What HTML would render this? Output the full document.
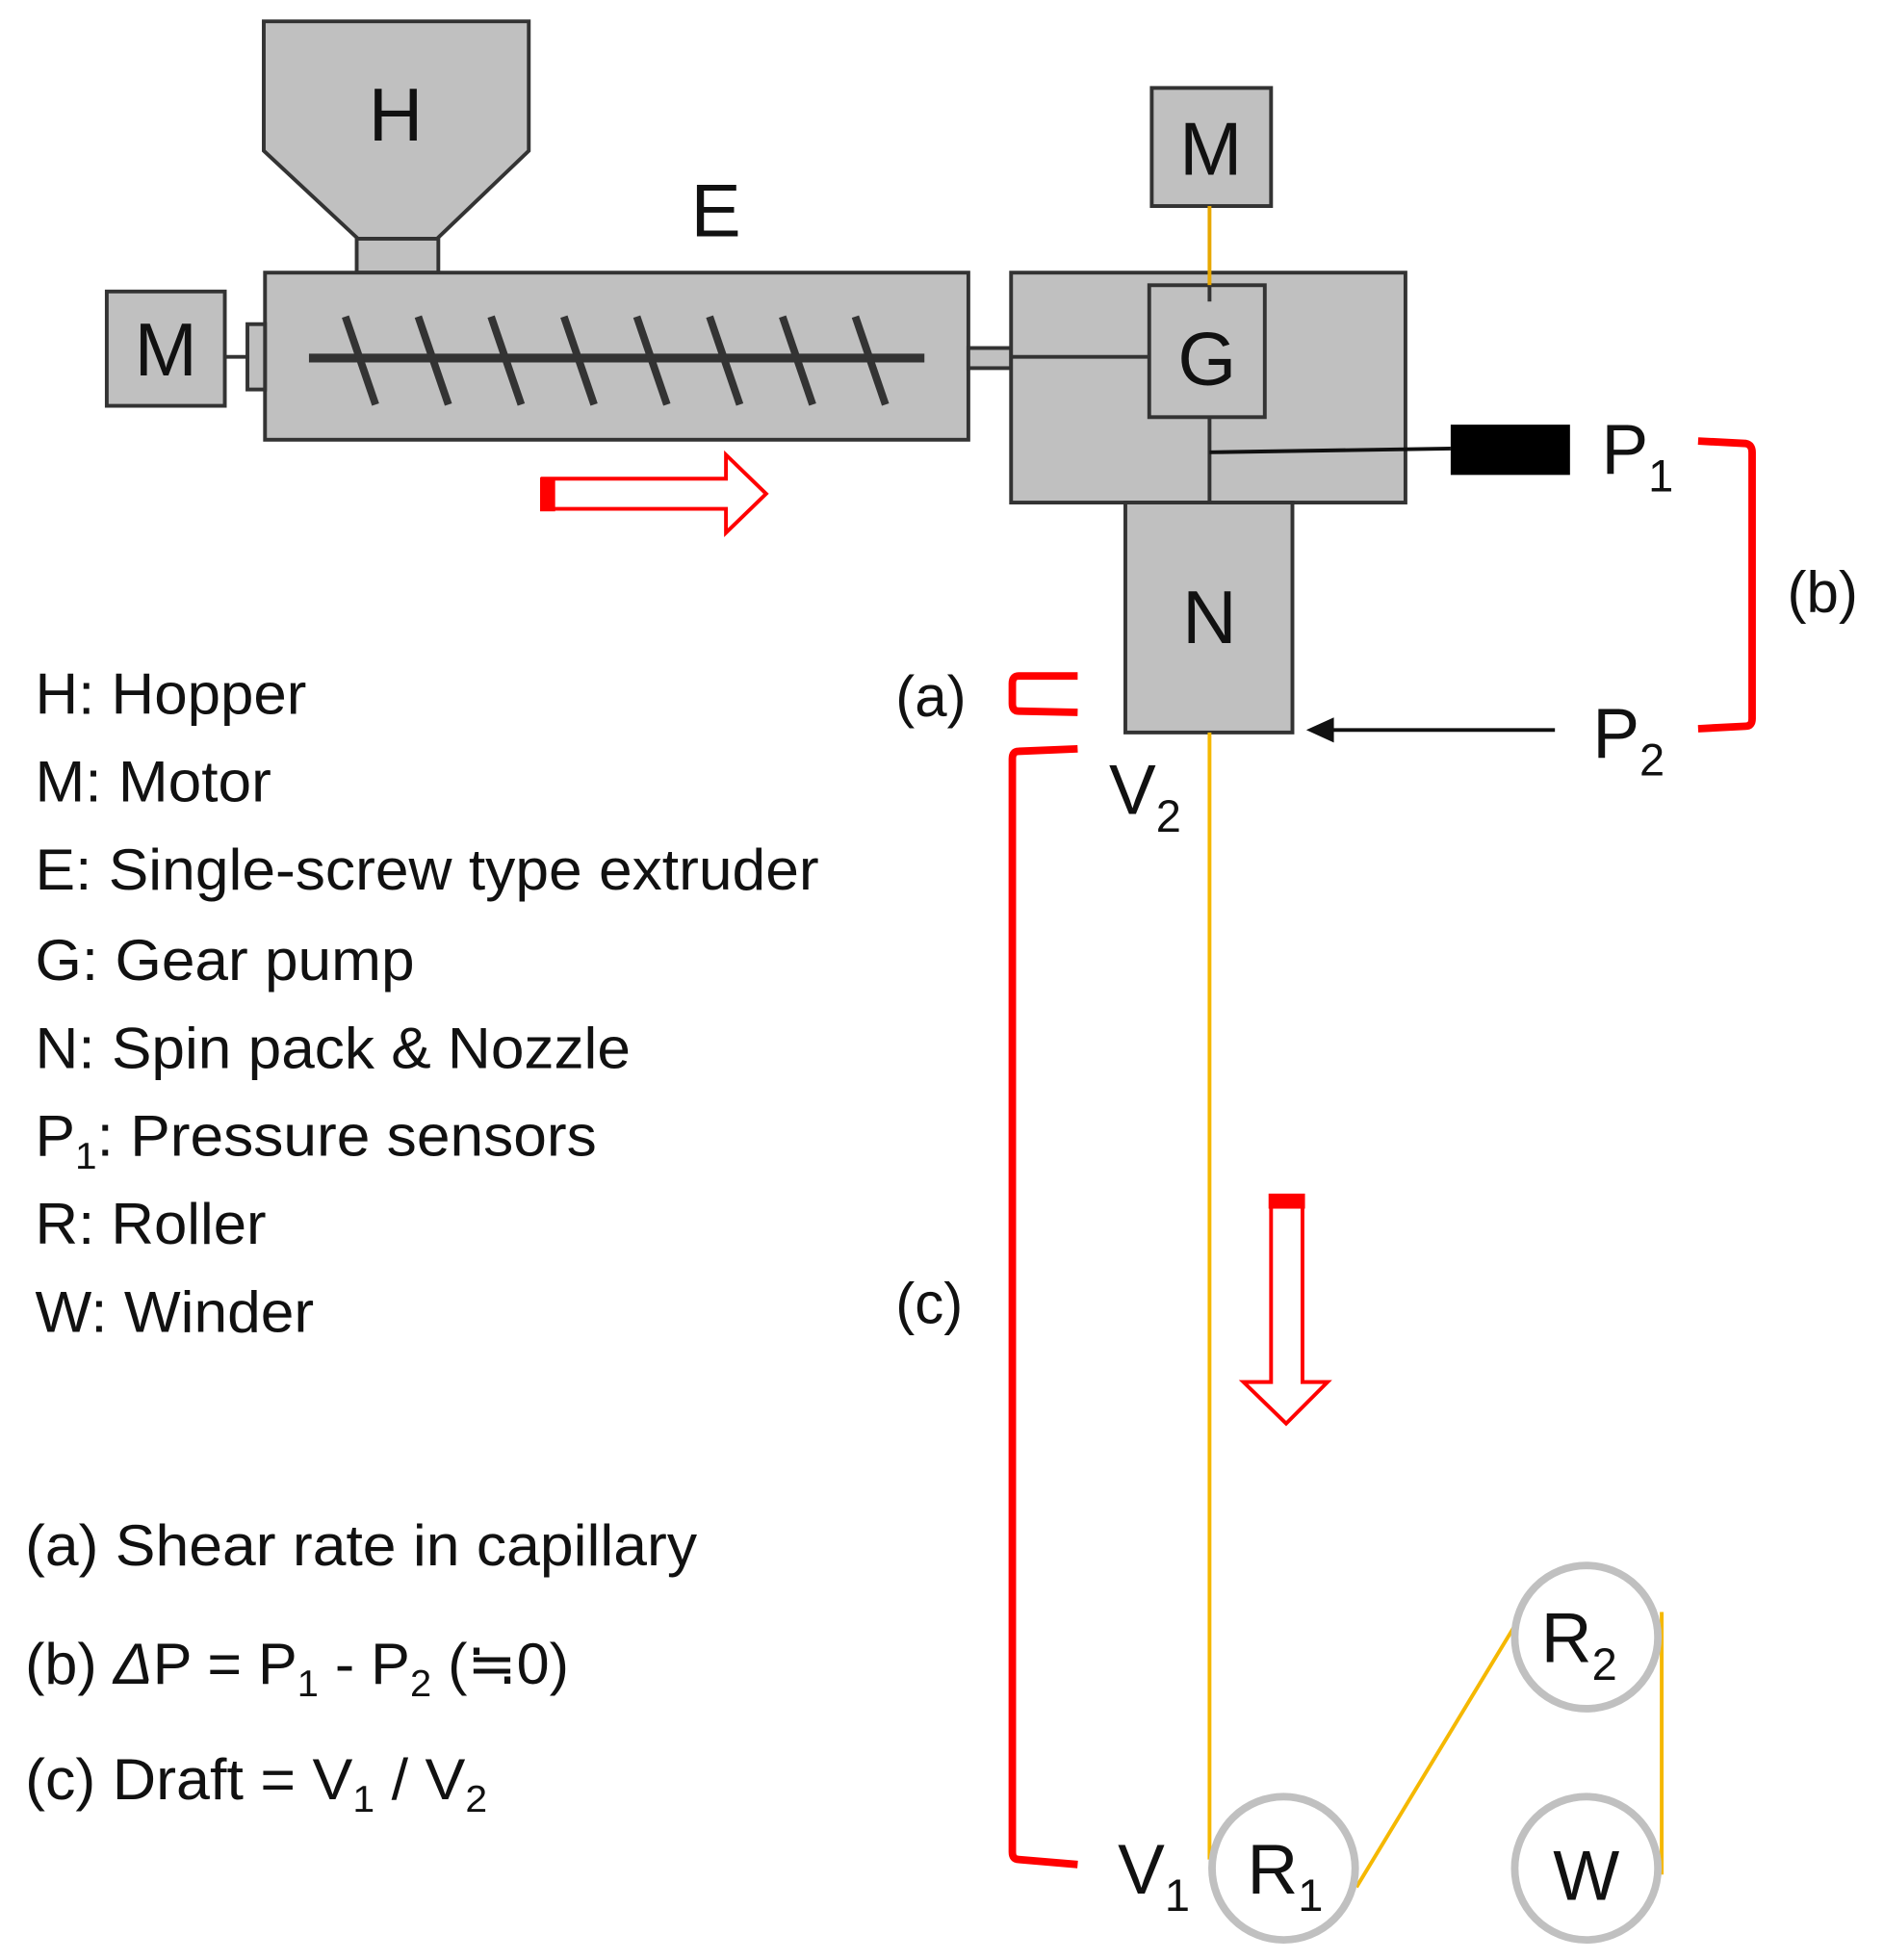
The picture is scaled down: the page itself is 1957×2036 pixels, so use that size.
<!DOCTYPE html>
<html><head><meta charset="utf-8"><style>html,body{margin:0;padding:0;background:#fff}svg{display:block}</style></head>
<body>
<svg width="1957" height="2036" viewBox="0 0 1500 1560" preserveAspectRatio="none" xmlns="http://www.w3.org/2000/svg" font-family="Liberation Sans, Arial, sans-serif">
<g fill="#c0c0c0" stroke="#333" stroke-width="3">
<polygon points="210,17 421,17 421,120 348,190 285,190 210,120"/>
<rect x="284" y="190" width="65" height="27"/>
<rect x="211" y="217" width="560" height="133"/>
<rect x="85" y="232" width="94" height="91"/>
<rect x="197" y="258" width="14" height="52"/>
<rect x="771" y="277" width="34" height="16"/>
<rect x="805" y="217" width="314" height="183"/>
<rect x="915" y="227" width="92" height="105"/>
<rect x="917" y="70" width="95" height="94"/>
<rect x="896" y="400" width="133" height="183"/>
</g>
<line x1="179" y1="284" x2="197" y2="284" stroke="#333" stroke-width="3"/>
<line x1="246" y1="285" x2="736" y2="285" stroke="#333" stroke-width="7"/>
<g stroke="#333" stroke-width="6">
<line x1="275" y1="252" x2="299" y2="322"/><line x1="333" y1="252" x2="357" y2="322"/>
<line x1="391" y1="252" x2="415" y2="322"/><line x1="449" y1="252" x2="473" y2="322"/>
<line x1="507" y1="252" x2="531" y2="322"/><line x1="565" y1="252" x2="589" y2="322"/>
<line x1="623" y1="252" x2="647" y2="322"/><line x1="681" y1="252" x2="705" y2="322"/>
</g>
<line x1="805" y1="284" x2="915" y2="284" stroke="#333" stroke-width="3"/>
<line x1="963" y1="164" x2="963" y2="227" stroke="#e8a800" stroke-width="3"/>
<line x1="963" y1="227" x2="963" y2="240" stroke="#333" stroke-width="3"/>
<line x1="963" y1="332" x2="963" y2="400" stroke="#333" stroke-width="3"/>
<line x1="963" y1="360" x2="1155" y2="357" stroke="#111" stroke-width="3"/>
<rect x="1155" y="338" width="95" height="40" fill="#000"/>
<line x1="1238" y1="581" x2="1060" y2="581" stroke="#111" stroke-width="3"/>
<polygon points="1040,581 1062,571 1062,591" fill="#111"/>
<g fill="none" stroke="#f00" stroke-width="6" stroke-linejoin="round">
<path d="M1352,351 L1390,353 Q1395,354 1395,360 L1395,572 Q1395,578 1390,578 L1352,580"/>
<path d="M858,538 L811,538 Q806,538 806,544 L806,560 Q806,566 811,566 L858,567"/>
<path d="M858,596 L811,598 Q806,598 806,604 L806,1474 Q806,1480 811,1480 L858,1484"/>
</g>
<polygon points="432,381 578,381 578,362 610,393 578,424 578,405 432,405" fill="#fff" stroke="#f00" stroke-width="3"/>
<rect x="430" y="380" width="12" height="27" fill="#f00"/>
<polygon points="1012,952 1037,952 1037,1100 1057,1100 1024,1133 990,1100 1012,1100" fill="#fff" stroke="#f00" stroke-width="3"/>
<rect x="1010" y="950" width="29" height="12" fill="#f00"/>
<g stroke="#f5b800" stroke-width="3" fill="none">
<line x1="963" y1="583" x2="963" y2="1480"/>
<line x1="1080" y1="1502" x2="1206" y2="1294"/>
<line x1="1323" y1="1283" x2="1323" y2="1492"/>
</g>
<g fill="#fff" stroke="#c0c0c0" stroke-width="6">
<circle cx="1263" cy="1303" r="57"/><circle cx="1022" cy="1487" r="57"/><circle cx="1263" cy="1487" r="57"/>
</g>
<g fill="#111" font-size="60" text-anchor="middle">
<text x="315" y="112">H</text><text x="570" y="188">E</text>
<text x="132" y="299">M</text><text x="964" y="139">M</text>
<text x="961" y="306">G</text><text x="963" y="512">N</text>
</g>
<g fill="#111" font-size="56">
<text x="1275" y="377">P<tspan font-size="36" dy="14">1</tspan></text>
<text x="1268" y="603">P<tspan font-size="36" dy="14">2</tspan></text>
<text x="883" y="648">V<tspan font-size="36" dy="14">2</tspan></text>
<text x="890" y="1507">V<tspan font-size="36" dy="14">1</tspan></text>
<text x="1227" y="1323">R<tspan font-size="36" dy="14">2</tspan></text>
<text x="993" y="1507">R<tspan font-size="36" dy="14">1</tspan></text>
<text x="1263" y="1512" text-anchor="middle">W</text>
</g>
<g fill="#111" font-size="46">
<text x="1423" y="487">(b)</text><text x="713" y="570">(a)</text><text x="713" y="1053">(c)</text>
</g>
<g fill="#111" font-size="46" lengthAdjust="spacingAndGlyphs">
<text x="28" y="568" textLength="216" lengthAdjust="spacingAndGlyphs">H: Hopper</text>
<text x="28" y="638" textLength="188" lengthAdjust="spacingAndGlyphs">M: Motor</text>
<text x="28" y="708" textLength="624" lengthAdjust="spacingAndGlyphs">E: Single-screw type extruder</text>
<text x="28" y="780" textLength="302" lengthAdjust="spacingAndGlyphs">G: Gear pump</text>
<text x="28" y="850" textLength="474" lengthAdjust="spacingAndGlyphs">N: Spin pack &amp; Nozzle</text>
<text x="28" y="920" textLength="447" lengthAdjust="spacingAndGlyphs">P<tspan font-size="30" dy="10">1</tspan><tspan dy="-10">: Pressure sensors</tspan></text>
<text x="28" y="990" textLength="184" lengthAdjust="spacingAndGlyphs">R: Roller</text>
<text x="28" y="1060" textLength="222" lengthAdjust="spacingAndGlyphs">W: Winder</text>
<text x="20" y="1246" textLength="535" lengthAdjust="spacingAndGlyphs">(a) Shear rate in capillary</text>
<text x="20" y="1340" textLength="433" lengthAdjust="spacingAndGlyphs">(b) <tspan font-style="italic">Δ</tspan>P = P<tspan font-size="30" dy="10">1</tspan><tspan dy="-10"> - P</tspan><tspan font-size="30" dy="10">2</tspan><tspan dy="-10"> (≒0)</tspan></text>
<text x="20" y="1432" textLength="368" lengthAdjust="spacingAndGlyphs">(c) Draft = V<tspan font-size="30" dy="10">1</tspan><tspan dy="-10"> / V</tspan><tspan font-size="30" dy="10">2</tspan></text>
</g>
</svg>
</body></html>
